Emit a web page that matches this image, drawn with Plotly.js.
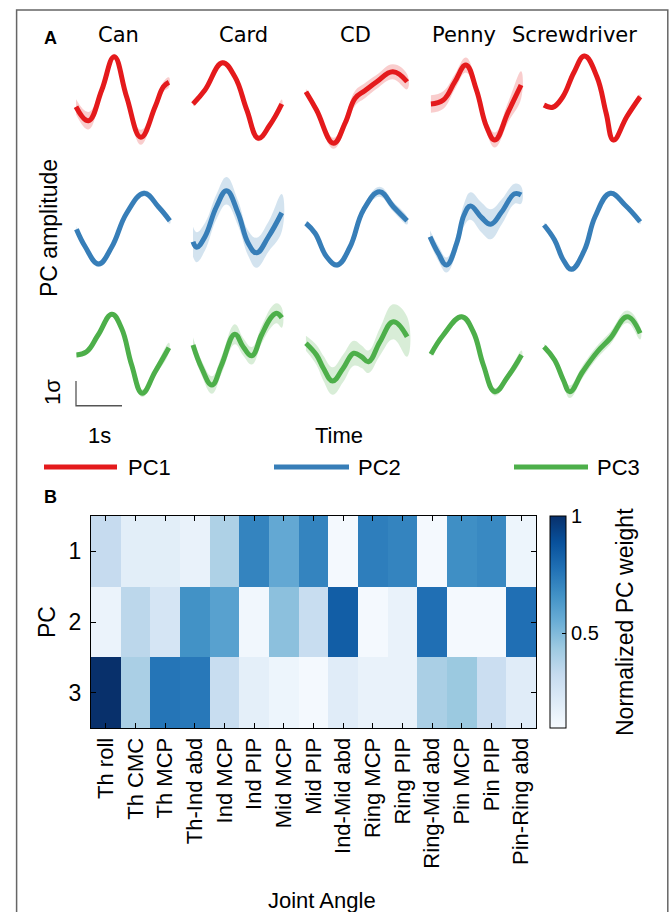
<!DOCTYPE html>
<html><head><meta charset="utf-8">
<script src="https://cdn.plot.ly/plotly-3.0.1.min.js"></script>
<style>html,body{margin:0;padding:0;background:#fff}#chart{width:669px;height:912px}</style>
</head><body><div id="chart"></div>
<script>
// ---------- DATA ----------
const tasks = ['Can', 'Card', 'CD', 'Penny', 'Screwdriver'];
const pcNames = ['PC1', 'PC2', 'PC3'];

// time (s), mean (sigma), band half-width (sigma) per task
const pc1Time = [
  [0.0, 0.27, 0.56, 0.83, 1.10, 1.41, 1.72, 1.90, 2.02],
  [0.0, 0.26, 0.64, 0.91, 1.17, 1.42, 1.67, 1.93],
  [0.02, 0.25, 0.62, 0.87, 1.09, 1.30, 1.56, 1.91, 2.22],
  [0.02, 0.29, 0.54, 0.78, 1.01, 1.23, 1.41, 1.70, 1.98],
  [0.0, 0.19, 0.41, 0.65, 0.88, 1.15, 1.35, 1.51, 1.80, 2.09]
];
const pc1Mean = [
  [-0.27, -0.83, 0.40, 1.73, 0.13, -1.49, -0.27, 0.53, 0.71],
  [-0.16, 0.40, 1.49, 0.93, -0.40, -1.53, -1.0, -0.16],
  [0.33, -0.40, -1.73, -0.93, 0.07, 0.37, 0.73, 1.13, 0.73],
  [-0.16, 0.0, 0.73, 1.40, 0.40, -1.07, -1.60, -0.48, 0.60],
  [-0.2, -0.29, 0.13, 1.1, 1.76, 0.93, -0.52, -1.6, -0.67, 0.13]
];
const pc1Sd = [
  [0.3, 0.35, 0.15, 0.12, 0.12, 0.3, 0.15, 0.2, 0.2],
  [0.1, 0.1, 0.1, 0.1, 0.1, 0.12, 0.12, 0.18],
  [0.12, 0.15, 0.22, 0.25, 0.3, 0.3, 0.28, 0.3, 0.3],
  [0.35, 0.35, 0.3, 0.3, 0.25, 0.25, 0.3, 0.4, 0.55],
  [0.1, 0.1, 0.1, 0.1, 0.1, 0.1, 0.1, 0.1, 0.1, 0.1]
];

const pc2Time = [
  [0.01, 0.2, 0.49, 0.78, 1.1, 1.48, 1.79, 2.04],
  [0.0, 0.08, 0.26, 0.51, 0.73, 0.98, 1.20, 1.38, 1.64, 1.93],
  [0.02, 0.22, 0.47, 0.7, 0.98, 1.27, 1.62, 1.92, 2.22],
  [0.0, 0.18, 0.36, 0.58, 0.74, 0.88, 1.12, 1.32, 1.56, 1.84, 1.98],
  [0.0, 0.23, 0.42, 0.6, 0.88, 1.11, 1.44, 1.76, 2.09]
];
const pc2Mean = [
  [-0.17, -0.87, -1.56, -0.87, 0.47, 1.27, 0.73, 0.17],
  [-0.67, -0.89, -0.47, 0.73, 1.37, 0.47, -0.73, -1.11, -0.47, 0.49],
  [0.07, -0.33, -1.27, -1.6, -0.87, 0.6, 1.33, 0.73, 0.17],
  [-0.47, -1.13, -1.6, -0.73, 0.4, 0.76, 0.3, 0.03, 0.53, 1.25, 1.2],
  [0.0, -0.6, -1.4, -1.77, -1.0, 0.33, 1.27, 0.8, 0.13]
];
const pc2Sd = [
  [0.12, 0.12, 0.12, 0.12, 0.12, 0.12, 0.12, 0.12],
  [0.6, 0.6, 0.55, 0.5, 0.55, 0.5, 0.5, 0.6, 0.6, 0.75],
  [0.1, 0.1, 0.12, 0.12, 0.12, 0.15, 0.2, 0.2, 0.15],
  [0.25, 0.3, 0.3, 0.35, 0.45, 0.55, 0.6, 0.6, 0.5, 0.4, 0.35],
  [0.1, 0.1, 0.1, 0.1, 0.1, 0.1, 0.1, 0.1, 0.1]
];

const pc3Time = [
  [0.01, 0.23, 0.48, 0.78, 0.99, 1.21, 1.44, 1.72, 2.02],
  [0.0, 0.19, 0.41, 0.62, 0.91, 1.09, 1.28, 1.49, 1.71, 1.82, 1.93],
  [0.02, 0.25, 0.4, 0.6, 0.83, 1.06, 1.23, 1.38, 1.63, 1.92, 2.22],
  [0.02, 0.29, 0.69, 0.94, 1.16, 1.41, 1.69, 1.99],
  [0.0, 0.23, 0.42, 0.56, 0.84, 1.16, 1.44, 1.81, 2.09]
];
const pc3Mean = [
  [-0.2, -0.07, 0.6, 1.43, 0.87, -0.6, -1.73, -0.87, 0.09],
  [0.2, -0.73, -1.4, -0.6, 0.63, 0.13, -0.23, 0.6, 1.33, 1.47, 1.29],
  [0.27, -0.2, -0.73, -1.24, -0.73, -0.13, -0.27, -0.47, 0.33, 1.13, 0.53],
  [-0.17, 0.6, 1.33, 0.73, -0.6, -1.67, -1.07, -0.2],
  [0.13, -0.4, -1.2, -1.67, -0.87, -0.07, 0.47, 1.33, 0.67]
];
const pc3Sd = [
  [0.1, 0.1, 0.1, 0.1, 0.1, 0.12, 0.15, 0.18, 0.2],
  [0.3, 0.3, 0.35, 0.35, 0.4, 0.35, 0.35, 0.35, 0.4, 0.4, 0.4],
  [0.3, 0.4, 0.5, 0.55, 0.55, 0.5, 0.45, 0.45, 0.55, 0.7, 0.8],
  [0.1, 0.1, 0.1, 0.1, 0.12, 0.15, 0.15, 0.18],
  [0.12, 0.15, 0.2, 0.25, 0.25, 0.25, 0.25, 0.25, 0.25]
];

// Panel B heat map
const jointAngles = ['Th roll', 'Th CMC', 'Th MCP', 'Th-Ind abd', 'Ind MCP', 'Ind PIP', 'Mid MCP', 'Mid PIP',
  'Ind-Mid abd', 'Ring MCP', 'Ring PIP', 'Ring-Mid abd', 'Pin MCP', 'Pin PIP', 'Pin-Ring abd'];
const pcRows = [1, 2, 3];
const pc1Weight = [0.32, 0.19, 0.19, 0.16, 0.39, 0.71, 0.57, 0.71, 0.11, 0.73, 0.71, 0.11, 0.67, 0.69, 0.14];
const pc2Weight = [0.15, 0.35, 0.25, 0.66, 0.60, 0.12, 0.475, 0.31, 0.84, 0.11, 0.16, 0.78, 0.11, 0.11, 0.78];
const pc3Weight = [1.0, 0.40, 0.76, 0.75, 0.31, 0.18, 0.14, 0.11, 0.20, 0.16, 0.16, 0.40, 0.44, 0.30, 0.20];
const colorbarTicks = [0.5, 1];

// ---------- LAYOUT HELPERS ----------
const W = 669, H = 912;
const fx = px => px / W;
const fy = py => 1 - py / H;
const SANS = 'Liberation Sans, Arial, sans-serif';
const TITLEF = 'DejaVu Sans, Verdana, sans-serif';

const colX0 = [76, 193, 305, 430, 544];
const rowMid = [100, 225, 350];
const PX_S = 46, PX_SIG = 25;
const XR = [-0.1, 2.35], YR = [-2.4, 2.4];

const lineColors = ['#e41a1c', '#377eb8', '#4daf4a'];
const bandColors = ['rgba(228,26,28,0.22)', 'rgba(55,126,184,0.22)', 'rgba(77,175,74,0.22)'];

const allTime = [pc1Time, pc2Time, pc3Time];
const allMean = [pc1Mean, pc2Mean, pc3Mean];
const allSd = [pc1Sd, pc2Sd, pc3Sd];

const layout = {
  width: W, height: H,
  margin: {l: 0, r: 0, t: 0, b: 0},
  paper_bgcolor: '#fff', plot_bgcolor: 'rgba(0,0,0,0)',
  showlegend: false,
  font: {family: SANS, color: '#000'},
  annotations: [], shapes: []
};

for (let c = 0; c < 5; c++) {
  const name = c === 0 ? 'xaxis' : 'xaxis' + (c + 1);
  layout[name] = {
    domain: [fx(colX0[c] + XR[0] * PX_S), fx(colX0[c] + XR[1] * PX_S)],
    range: XR, visible: false, fixedrange: true, anchor: 'y'
  };
}
for (let r = 0; r < 3; r++) {
  const name = r === 0 ? 'yaxis' : 'yaxis' + (r + 1);
  layout[name] = {
    domain: [fy(rowMid[r] - YR[0] * PX_SIG), fy(rowMid[r] - YR[1] * PX_SIG)],
    range: YR, visible: false, fixedrange: true, anchor: 'x'
  };
}

const traces = [];
for (let r = 0; r < 3; r++) {
  for (let c = 0; c < 5; c++) {
    const t = allTime[r][c], m = allMean[r][c], s = allSd[r][c];
    const up = m.map((v, i) => v + s[i]);
    const lo = m.map((v, i) => v - s[i]);
    const xa = c === 0 ? 'x' : 'x' + (c + 1);
    const ya = r === 0 ? 'y' : 'y' + (r + 1);
    traces.push({
      type: 'scatter', mode: 'lines', xaxis: xa, yaxis: ya,
      x: t.concat(t.slice().reverse()),
      y: up.concat(lo.slice().reverse()),
      fill: 'toself', fillcolor: bandColors[r],
      line: {width: 0, shape: 'spline', smoothing: 1.2},
      hoverinfo: 'skip', name: pcNames[r] + ' band'
    });
    traces.push({
      type: 'scatter', mode: 'lines', xaxis: xa, yaxis: ya,
      x: t, y: m, name: pcNames[r] + ' ' + tasks[c],
      line: {color: lineColors[r], width: 5, shape: 'spline', smoothing: 1.2}
    });
  }
}

// Heatmap
const blues = [[0, '#f7fbff'], [0.125, '#deebf7'], [0.25, '#c6dbef'], [0.375, '#9ecae1'], [0.5, '#6baed6'],
  [0.625, '#4292c6'], [0.75, '#2171b5'], [0.875, '#08519c'], [1, '#08306b']];
traces.push({
  type: 'heatmap', xaxis: 'x6', yaxis: 'y4',
  x: jointAngles, y: pcRows, z: [pc1Weight, pc2Weight, pc3Weight],
  zmin: 0.095, zmax: 1.0, colorscale: blues,
  colorbar: {
    x: fx(550), xanchor: 'left', xref: 'paper', xpad: 0, ypad: 0,
    y: fy(622), yanchor: 'middle', len: 212 / H, lenmode: 'fraction',
    thickness: 16, thicknessmode: 'pixels',
    outlinewidth: 1, outlinecolor: '#000',
    ticks: 'inside', ticklen: 4, tickcolor: '#000',
    tickvals: colorbarTicks, ticktext: colorbarTicks.map(String),
    tickfont: {size: 20, family: SANS}
  }
});

layout.xaxis6 = {
  domain: [fx(91), fx(536)], anchor: 'y4', side: 'bottom',
  type: 'category', tickangle: -90, ticks: 'inside', ticklen: 5, tickcolor: '#000',
  showline: true, linecolor: '#000', linewidth: 1, mirror: 'ticks',
  showgrid: false, zeroline: false, fixedrange: true,
  tickfont: {size: 22, family: SANS}
};
layout.yaxis4 = {
  domain: [fy(728), fy(516)], anchor: 'x6', autorange: 'reversed',
  tickvals: pcRows, ticks: 'inside', ticklen: 5, tickcolor: '#000',
  showline: true, linecolor: '#000', linewidth: 1, mirror: 'ticks',
  showgrid: false, zeroline: false, fixedrange: true, ticklabelstandoff: 4,
  tickfont: {size: 23, family: SANS}
};

// ---------- TEXT ----------
function ann(text, px, py, opts) {
  layout.annotations.push(Object.assign({
    text: text, x: fx(px), y: fy(py), xref: 'paper', yref: 'paper',
    showarrow: false, xanchor: 'center', yanchor: 'middle',
    font: {family: SANS, size: 22, color: '#000'}
  }, opts || {}));
}
ann('<b>A</b>', 50, 38, {font: {family: SANS, size: 18, color: '#000'}});
ann('<b>B</b>', 50, 497, {font: {family: SANS, size: 18, color: '#000'}});
const titleX = [118, 243, 355, 464, 574];
tasks.forEach((t, i) => ann(t, titleX[i], 35, {font: {family: TITLEF, size: 21, color: '#000'}}));
ann('PC amplitude', 49, 228, {textangle: -90, font: {family: SANS, size: 23, color: '#000'}});
ann('1σ', 52, 392, {textangle: -90});
ann('1s', 99, 435);
ann('Time', 339, 435);
ann('PC', 47, 622, {textangle: -90, font: {family: SANS, size: 23, color: '#000'}});
ann('Joint Angle', 322, 900);
ann('Normalized PC weight', 625, 622, {textangle: -90, font: {family: SANS, size: 23, color: '#000'}});

// Legend
const legLineX = [[44, 117], [274, 349], [514, 588]];
const legTextX = [149, 379, 618];
for (let r = 0; r < 3; r++) {
  layout.shapes.push({type: 'line', xref: 'paper', yref: 'paper',
    x0: fx(legLineX[r][0]), x1: fx(legLineX[r][1]), y0: fy(467), y1: fy(467),
    line: {color: lineColors[r], width: 5}});
  ann(pcNames[r], legTextX[r], 467);
}

// Scale bar (1 s x 1 sigma) in the Can / PC3 axes
layout.shapes.push({type: 'path', xref: 'x', yref: 'y3',
  path: 'M 0,-1.24 L 0,-2.23 L 1,-2.23', line: {color: '#555', width: 1.3}});

// Outer frame
layout.shapes.push({type: 'rect', xref: 'paper', yref: 'paper',
  x0: fx(16.6), x1: fx(667.8), y0: fy(10), y1: fy(930),
  line: {color: '#666', width: 1.5}, fillcolor: 'rgba(0,0,0,0)', layer: 'below'});

Plotly.newPlot('chart', traces, layout, {staticPlot: true, displayModeBar: false});
</script></body></html>
